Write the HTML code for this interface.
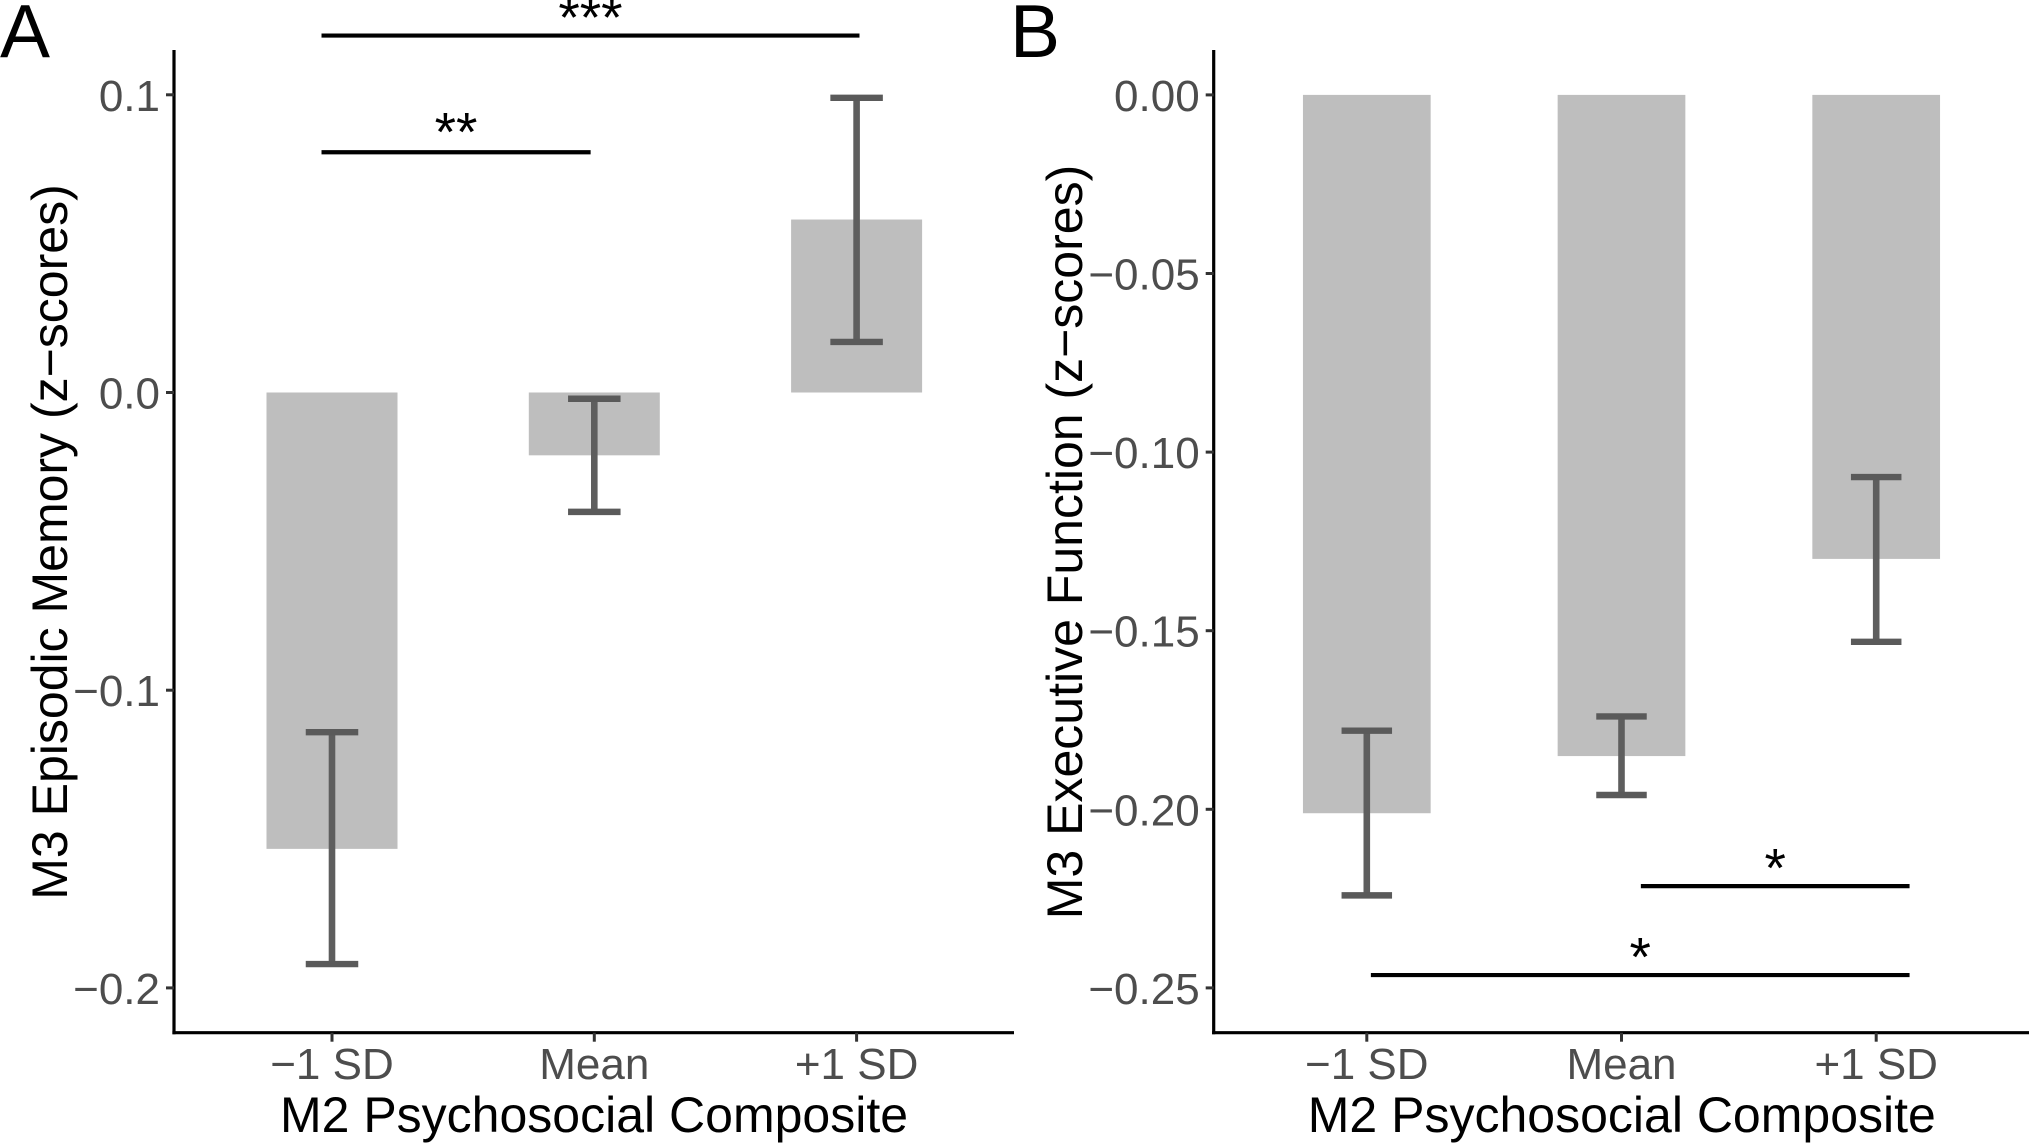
<!DOCTYPE html>
<html lang="en">
<head>
<meta charset="utf-8">
<title>M3 outcomes by M2 Psychosocial Composite</title>
<style>
  html, body { margin: 0; padding: 0; background: #fff; }
  #figure { display: block; width: 2029px; height: 1143px; font-family: "Liberation Sans", Arial, sans-serif; }
</style>
</head>
<body>
<svg id="figure" xmlns="http://www.w3.org/2000/svg" width="2029" height="1143" viewBox="0 0 2029 1143"></svg>
<script>
const categories = ["\u22121 SD", "Mean", "+1 SD"];

const episodicMeans = [-0.1533, -0.0211, 0.0581];
const episodicErrTop = [-0.1141, -0.0021, 0.0990];
const episodicErrBottom = [-0.1920, -0.0401, 0.0170];
const episodicTicks = [0.1, 0.0, -0.1, -0.2];
const episodicTickLabels = ["0.1", "0.0", "\u22120.1", "\u22120.2"];
const episodicSigFrom = [-0.04, -0.04];
const episodicSigTo = [2.011, 0.986];
const episodicSigLevel = [0.1199, 0.0807];
const episodicSigStars = ["***", "**"];

const executiveMeans = [-0.2011, -0.1851, -0.1299];
const executiveErrTop = [-0.1780, -0.1740, -0.1070];
const executiveErrBottom = [-0.2241, -0.1960, -0.1531];
const executiveTicks = [0, -0.05, -0.10, -0.15, -0.20, -0.25];
const executiveTickLabels = ["0.00", "\u22120.05", "\u22120.10", "\u22120.15", "\u22120.20", "\u22120.25"];
const executiveSigFrom = [1.076, 0.016];
const executiveSigTo = [2.131, 2.131];
const executiveSigLevel = [-0.2215, -0.2464];
const executiveSigStars = ["*", "*"];

const SVG_NS = "http://www.w3.org/2000/svg";
const fig = document.getElementById("figure");

function make(tag, attrs, text) {
  const el = document.createElementNS(SVG_NS, tag);
  for (const k in attrs) el.setAttribute(k, attrs[k]);
  if (text !== undefined) el.textContent = text;
  fig.appendChild(el);
  return el;
}

function drawPanel(p) {
  const xPos = i => p.x0 + p.xStep * i;
  const yPos = v => p.yZero - v * p.yUnit;
  const barW = p.barWidth;

  // Bars
  p.means.forEach((m, i) => {
    const y0 = yPos(0), y1 = yPos(m);
    const bar = make("rect", { x: xPos(i) - barW / 2, y: Math.min(y0, y1), width: barW, height: Math.abs(y1 - y0), fill: "#bebebe" });
    
    
  });

  // Error bars
  p.means.forEach((m, i) => {
    const cx = xPos(i), t = yPos(p.errTop[i]), b = yPos(p.errBottom[i]);
    const stem = make("line", { x1: cx, x2: cx, y1: t, y2: b, stroke: "#5e5e5e", "stroke-width": 6.6 });
    
    
    [t, b].forEach((yy, j) => {
      const cap = make("line", { x1: cx - p.capWidth / 2, x2: cx + p.capWidth / 2, y1: yy, y2: yy, stroke: "#5a5a5a", "stroke-width": 6.4 });
      
      
    });
  });

  // Axis lines
  const yAxis = make("line", { x1: p.axisX, x2: p.axisX, y1: 50, y2: p.axisY + 1.6, stroke: "#000", "stroke-width": 3.2 });
  
  
  const xAxis = make("line", { x1: p.axisX - 1.6, x2: p.axisEnd, y1: p.axisY, y2: p.axisY, stroke: "#000", "stroke-width": 3.2 });
  
  

  // Y ticks and labels
  p.ticks.forEach((v, i) => {
    const yy = yPos(v);
    const tick = make("line", { x1: p.axisX - 8, x2: p.axisX, y1: yy, y2: yy, stroke: "#333", "stroke-width": 3 });
    
    
    const lbl = make("text", { x: p.axisX - 14, y: yy + 16, "text-anchor": "end", "font-size": 44, fill: "#4d4d4d" }, p.tickLabels[i]);
    
    
  });

  // X ticks and labels
  categories.forEach((c, i) => {
    const xx = xPos(i);
    const tick = make("line", { x1: xx, x2: xx, y1: p.axisY, y2: p.axisY + 9, stroke: "#333", "stroke-width": 3 });
    
    
    const lbl = make("text", { x: xx, y: 1079, "text-anchor": "middle", "font-size": 44, fill: "#4d4d4d" }, c);
    
    
  });

  // Significance brackets
  p.sigLevel.forEach((lv, i) => {
    const x1 = xPos(p.sigFrom[i]), x2 = xPos(p.sigTo[i]), yy = yPos(lv);
    const ln = make("line", { x1: x1, x2: x2, y1: yy, y2: yy, stroke: "#000", "stroke-width": 4.2 });
    
    
    const st = make("text", { x: (x1 + x2) / 2, y: yy + p.starOffset[i], "text-anchor": "middle", "font-size": 55, fill: "#000" }, p.sigStars[i]);
    
    
  });

  // Axis titles
  const xTitle = make("text", { x: p.titleX, y: 1132, "text-anchor": "middle", "font-size": 50, fill: "#000" }, "M2 Psychosocial Composite");
  
  
  const yTitle = make("text", { x: 0, y: 0, transform: "translate(" + p.yTitleX + ",542) rotate(-90)", "text-anchor": "middle", "font-size": 50, fill: "#000" }, p.yTitle);
  
  

  // Panel letter
  const letter = make("text", { x: p.letterX, y: 57, "font-size": 75, fill: "#000" }, p.letter);
  
  
}

drawPanel({
  id: "episodic", letter: "A", letterX: 0,
  means: episodicMeans, errTop: episodicErrTop, errBottom: episodicErrBottom,
  ticks: episodicTicks, tickLabels: episodicTickLabels,
  sigFrom: episodicSigFrom, sigTo: episodicSigTo, sigLevel: episodicSigLevel, sigStars: episodicSigStars,
  starOffset: [0.5, -2],
  x0: 332, xStep: 262.3, barWidth: 131, capWidth: 52.5,
  yZero: 392.5, yUnit: 2977,
  axisX: 174, axisY: 1032.7, axisEnd: 1014,
  titleX: 594, yTitleX: 67, yTitle: "M3 Episodic Memory (z\u2212scores)"
});

drawPanel({
  id: "executive", letter: "B", letterX: 1010,
  means: executiveMeans, errTop: executiveErrTop, errBottom: executiveErrBottom,
  ticks: executiveTicks, tickLabels: executiveTickLabels,
  sigFrom: executiveSigFrom, sigTo: executiveSigTo, sigLevel: executiveSigLevel, sigStars: executiveSigStars,
  starOffset: [0.5, 0.5],
  x0: 1366.8, xStep: 254.7, barWidth: 127.7, capWidth: 50.5,
  yZero: 94.9, yUnit: 3572,
  axisX: 1213.7, axisY: 1032.7, axisEnd: 2029,
  titleX: 1621.8, yTitleX: 1082, yTitle: "M3 Executive Function (z\u2212scores)"
});
</script>
</body>
</html>
